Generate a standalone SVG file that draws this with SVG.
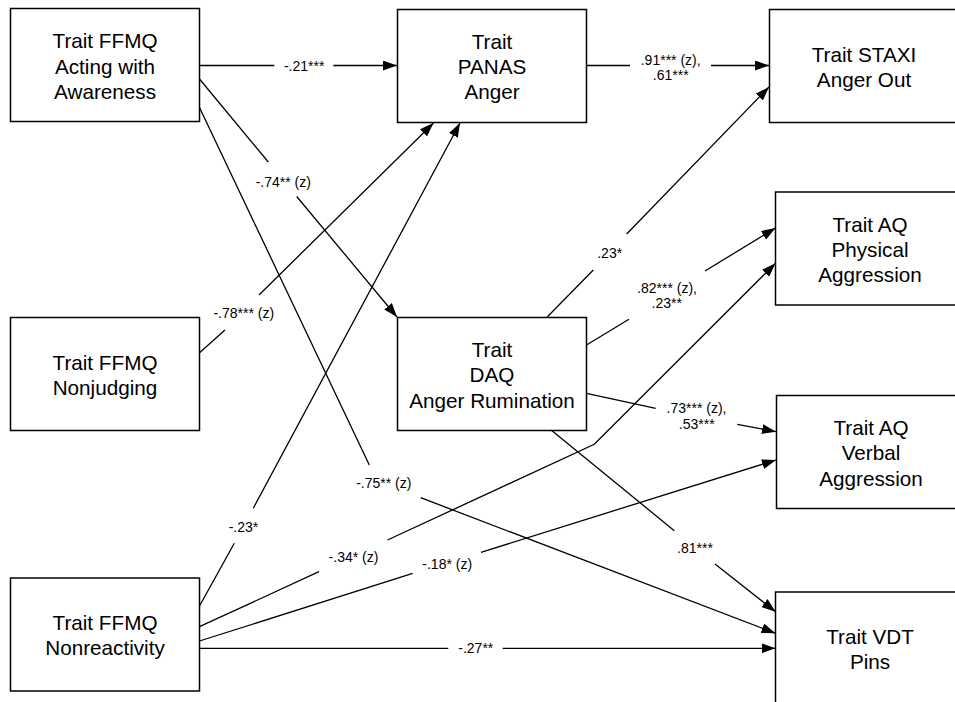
<svg xmlns="http://www.w3.org/2000/svg" width="955" height="702" viewBox="0 0 955 702">
<style>
.box{fill:#fff;stroke:#000;stroke-width:1.5}
.nt{font-family:"Liberation Sans",Arial,sans-serif;font-size:20.7px;fill:#000;text-anchor:middle}
.ln{fill:none;stroke:#000;stroke-width:1.3;marker-end:url(#ah)}
.lb{font-family:"Liberation Sans",Arial,sans-serif;font-size:14px;fill:#000;text-anchor:middle}
</style>
<defs>
<marker id="ah" markerUnits="userSpaceOnUse" markerWidth="14" markerHeight="10" refX="14" refY="5" orient="auto">
<path d="M0,0 L14,5 L0,10 z" fill="#000"/>
</marker>
</defs>
<rect width="955" height="702" fill="#fff"/>
<g id="connectors">
<path class="ln" d="M199.5,65.5 L274.3,65.5 M333.3,65.5 L397,65.5"/>
<path class="ln" d="M586.5,65.5 L630,65.5 M711,65.5 L769,65.5"/>
<path class="ln" d="M199.5,79 L268.3,162 M296.7,196.5 L397,317"/>
<path class="ln" d="M199.5,107.5 L369.3,465 M420.7,497.7 L775.5,633.3"/>
<path class="ln" d="M199.5,352.7 L225,330 M259,295 L433.5,123"/>
<path class="ln" d="M199.5,606 L234.3,543.3 M253.3,508.3 L460,123"/>
<path class="ln" d="M199.5,626.7 L319,571.7 M387.5,540 L594.3,444.3 L775.5,263.3"/>
<path class="ln" d="M199.5,641 L412.7,573.3 M481,552.3 L776,460"/>
<path class="ln" d="M199.5,648.3 L448.3,648.3 M502.7,648.3 L775.5,648.3"/>
<path class="ln" d="M546.7,317.5 L593.3,270 M626.7,234 L769,87"/>
<path class="ln" d="M586.5,345 L629,319.3 M705,271 L775.5,228"/>
<path class="ln" d="M586.5,393.3 L655.7,408.3 M737.3,424.3 L776,431.7"/>
<path class="ln" d="M551.7,430.5 L674.3,530.7 M715,564 L775.5,611.7"/>
</g>
<g id="labels">
<text class="lb" x="304.2" y="71">-.21***</text>
<text class="lb" x="670.7" y="64.5">.91*** (z),</text>
<text class="lb" x="670.7" y="80">.61***</text>
<text class="lb" x="283.3" y="186.5">-.74** (z)</text>
<text class="lb" x="243.8" y="318">-.78*** (z)</text>
<text class="lb" x="609.7" y="257.7">.23*</text>
<text class="lb" x="667" y="292.7">.82*** (z),</text>
<text class="lb" x="666.7" y="308.3">.23**</text>
<text class="lb" x="696.5" y="413.3">.73*** (z),</text>
<text class="lb" x="696.7" y="429.3">.53***</text>
<text class="lb" x="383.8" y="488.3">-.75** (z)</text>
<text class="lb" x="243.5" y="531.7">-.23*</text>
<text class="lb" x="353.5" y="562.3">-.34* (z)</text>
<text class="lb" x="447.2" y="569">-.18* (z)</text>
<text class="lb" x="475.8" y="653.3">-.27**</text>
<text class="lb" x="695" y="552.7">.81***</text>
</g>
<g id="n-acting">
<rect class="box" x="10.5" y="8.5" width="189" height="113"/>
<text class="nt" x="105" y="48.3">Trait FFMQ</text>
<text class="nt" x="105" y="73.6">Acting with</text>
<text class="nt" x="105" y="99">Awareness</text>
</g>
<g id="n-nonjudging">
<rect class="box" x="10.5" y="317.5" width="189" height="113"/>
<text class="nt" x="105" y="370">Trait FFMQ</text>
<text class="nt" x="105" y="395.3">Nonjudging</text>
</g>
<g id="n-nonreactivity">
<rect class="box" x="10.5" y="578" width="189" height="113"/>
<text class="nt" x="105" y="630">Trait FFMQ</text>
<text class="nt" x="105" y="655.3">Nonreactivity</text>
</g>
<g id="n-panas">
<rect class="box" x="397.5" y="9.5" width="189" height="113"/>
<text class="nt" x="492" y="49.3">Trait</text>
<text class="nt" x="492" y="74.3">PANAS</text>
<text class="nt" x="492" y="99.3">Anger</text>
</g>
<g id="n-daq">
<rect class="box" x="397.5" y="317.5" width="189" height="113"/>
<text class="nt" x="492" y="356.7">Trait</text>
<text class="nt" x="492" y="382.2">DAQ</text>
<text class="nt" x="492" y="407.7">Anger Rumination</text>
</g>
<g id="n-staxi">
<rect class="box" x="769.5" y="9.5" width="189" height="113"/>
<text class="nt" x="864" y="61.7">Trait STAXI</text>
<text class="nt" x="864" y="87.3">Anger Out</text>
</g>
<g id="n-physical">
<rect class="box" x="775.5" y="192" width="189" height="113"/>
<text class="nt" x="870" y="231.7">Trait AQ</text>
<text class="nt" x="870" y="256.7">Physical</text>
<text class="nt" x="870" y="281.7">Aggression</text>
</g>
<g id="n-verbal">
<rect class="box" x="776.5" y="395.5" width="189" height="113"/>
<text class="nt" x="871" y="435.3">Trait AQ</text>
<text class="nt" x="871" y="460">Verbal</text>
<text class="nt" x="871" y="485.7">Aggression</text>
</g>
<g id="n-vdt">
<rect class="box" x="775.5" y="592" width="189" height="113"/>
<text class="nt" x="870" y="644.3">Trait VDT</text>
<text class="nt" x="870" y="669.3">Pins</text>
</g>
</svg>
